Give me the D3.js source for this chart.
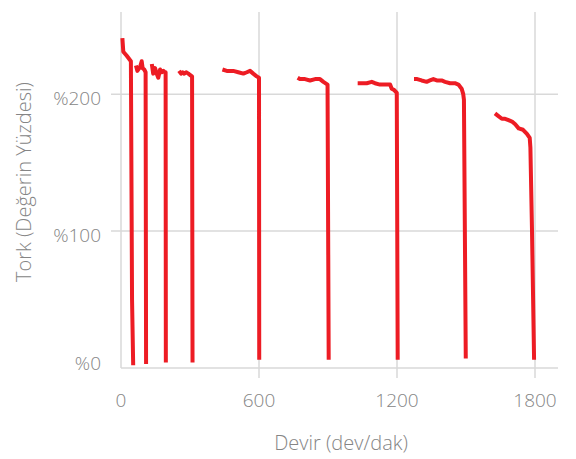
<!DOCTYPE html>
<html>
<head>
<meta charset="utf-8">
<script src="https://cdn.jsdelivr.net/npm/d3@7"></script>
<style>
    html, body { margin: 0; padding: 0; background: #fff; }
    svg { display: block; font-family: 'Open Sans', 'DejaVu Sans', sans-serif; font-weight: 300; }
</style>
</head>
<body>
<div id="chart"></div>
<script>
// speed (rpm) and torque (% of rated), null = gap between runs
const rpm = [
    6, 10, 25, 43, 48, 53, null,
    65, 71, 83, 90, 94, 101, 107, 109, null,
    134, 140, 148, 155, 162, 170, 177, 184, 191, 194, 195, null,
    252, 261, 268, 275, 283, 293, 300, 309, 311, null,
    441, 460, 488, 510, 532, 547, 561, 575, 590, 600, 601, null,
    768, 778, 800, 822, 844, 865, 880, 898, 903, null,
    1029, 1047, 1068, 1090, 1104, 1126, 1148, 1170, 1177, 1188, 1199, 1203, null,
    1274, 1288, 1307, 1329, 1343, 1358, 1373, 1394, 1409, 1431, 1452, 1467, 1481, 1488, 1491, 1499, null,
    1626, 1641, 1656, 1670, 1685, 1700, 1714, 1729, 1748, 1765, 1777, 1780, 1787, 1796
];
const torque = [
    241, 231, 228, 224, 50, 2, null,
    221, 217, 220, 224, 219, 218, 216, 3, null,
    222, 215, 219, 215, 212, 218, 216, 217, 216, 216, 4, null,
    217, 215, 216, 215, 216, 215, 214, 213, 4, null,
    218, 217, 217, 216, 215, 216, 217, 215, 213, 212, 6, null,
    212, 211, 211, 210, 211, 211, 209, 207, 6, null,
    208, 208, 208, 209, 208, 207, 207, 207, 204, 203, 201, 6, null,
    211, 211, 210, 209, 210, 211, 210, 210, 209, 208, 208, 207, 204, 200, 196, 7, null,
    186, 184, 182, 182, 181, 180, 178, 175, 174, 171, 168, 161, 100, 6
];
const xTicks = [0, 600, 1200, 1800];
const yTicks = [0, 100, 200];
const yTickLabels = ['%0', '%100', '%200'];

const width = 576;
const height = 459;
const margin = { top: 12, left: 121 };
const plotBottom = 368;
const plotRight = 558;

const points = rpm.map((r, i) => ({ rpm: r, torque: torque[i] }));

const xScale = d3.scaleLinear()
    .domain([0, 1900])
    .range([margin.left, plotRight]);

const yScale = d3.scaleLinear()
    .domain([0, 260])
    .range([plotBottom, margin.top]);

const svg = d3.select('#chart')
    .append('svg')
    .attr('width', width)
    .attr('height', height);

const gridColor = '#d9d9d9';
const textColor = '#858585';

// vertical grid + small ticks below the axis
svg.append('g')
    .selectAll('line')
    .data(xTicks)
    .join('line')
    .attr('x1', d => xScale(d))
    .attr('x2', d => xScale(d))
    .attr('y1', margin.top)
    .attr('y2', d => d === 0 ? plotBottom : plotBottom + 10)
    .attr('stroke', gridColor)
    .attr('stroke-width', 1.5);

// horizontal grid, left ticks except at 0
svg.append('g')
    .selectAll('line')
    .data(yTicks)
    .join('line')
    .attr('x1', d => d === 0 ? margin.left : margin.left - 10)
    .attr('x2', plotRight)
    .attr('y1', d => yScale(d))
    .attr('y2', d => yScale(d))
    .attr('stroke', gridColor)
    .attr('stroke-width', 1.5);

svg.append('g')
    .selectAll('text')
    .data(xTicks)
    .join('text')
    .attr('x', d => xScale(d))
    .attr('y', 407)
    .attr('text-anchor', 'middle')
    .attr('font-size', 19)
    .attr('fill', textColor)
    .text(d => d);

svg.append('g')
    .selectAll('text')
    .data(yTicks)
    .join('text')
    .attr('x', 101)
    .attr('y', d => d === 0 ? yScale(d) + 2 : yScale(d) + 11)
    .attr('text-anchor', 'end')
    .attr('font-size', 19)
    .attr('fill', textColor)
    .text((d, i) => yTickLabels[i]);

svg.append('text')
    .attr('x', 341)
    .attr('y', 450)
    .attr('text-anchor', 'middle')
    .attr('font-size', 20)
    .attr('fill', textColor)
    .text('Devir (dev/dak)');

svg.append('text')
    .attr('transform', 'translate(31,182) rotate(-90)')
    .attr('text-anchor', 'middle')
    .attr('font-size', 20)
    .attr('fill', textColor)
    .text('Tork (Değerin Yüzdesi)');

const line = d3.line()
    .defined(d => d.rpm !== null)
    .x(d => xScale(d.rpm))
    .y(d => yScale(d.torque));

svg.append('path')
    .datum(points)
    .attr('fill', 'none')
    .attr('stroke', '#ed1c24')
    .attr('stroke-width', 4)
    .attr('stroke-linejoin', 'round')
    .attr('d', line);
</script>
</body>
</html>
